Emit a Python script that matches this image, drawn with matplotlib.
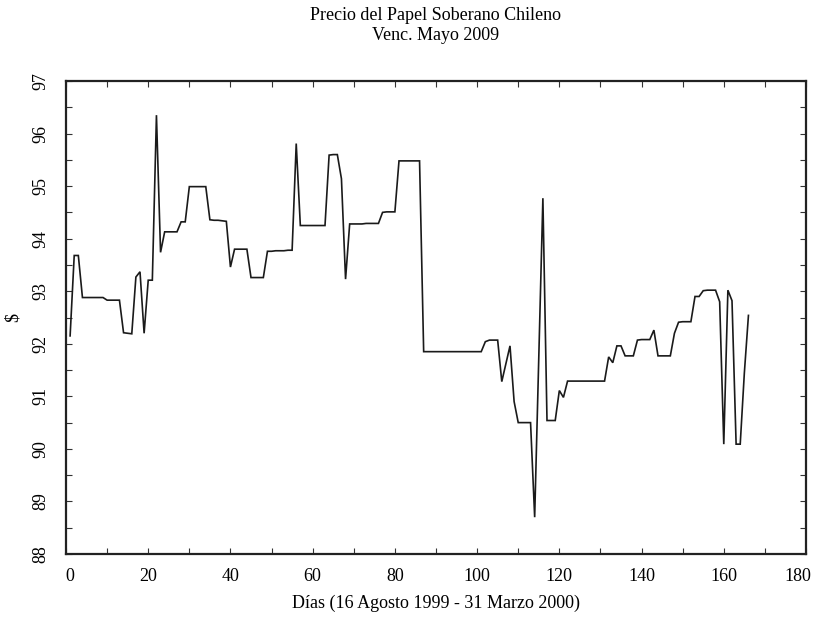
import matplotlib
matplotlib.use("Agg")
import matplotlib.pyplot as plt
import matplotlib.transforms as mtransforms
import numpy as np

plt.rcParams['font.family'] = ['Liberation Serif', 'DejaVu Serif']

days = list(range(1, 167))
prices = [
    92.15, 93.68, 93.68, 92.88, 92.88, 92.88, 92.88, 92.88, 92.88, 92.83,   # 1-10
    92.83, 92.83, 92.83, 92.21, 92.20, 92.19, 93.27, 93.37, 92.20, 93.21,   # 11-20
    93.21, 96.35, 93.74, 94.13, 94.13, 94.13, 94.13, 94.32, 94.32, 94.99,   # 21-30
    94.99, 94.99, 94.99, 94.99, 94.36, 94.35, 94.35, 94.34, 94.33, 93.46,   # 31-40
    93.80, 93.80, 93.80, 93.80, 93.26, 93.26, 93.26, 93.26, 93.76, 93.76,   # 41-50
    93.77, 93.77, 93.77, 93.78, 93.78, 95.81, 94.25, 94.25, 94.25, 94.25,   # 51-60
    94.25, 94.25, 94.25, 95.59, 95.60, 95.60, 95.14, 93.23, 94.28, 94.28,   # 61-70
    94.28, 94.28, 94.29, 94.29, 94.29, 94.29, 94.50, 94.51, 94.51, 94.51,   # 71-80
    95.48, 95.48, 95.48, 95.48, 95.48, 95.48, 91.85, 91.85, 91.85, 91.85,   # 81-90
    91.85, 91.85, 91.85, 91.85, 91.85, 91.85, 91.85, 91.85, 91.85, 91.85,   # 91-100
    91.85, 92.04, 92.07, 92.07, 92.07, 91.28, 91.62, 91.96, 90.90, 90.50,   # 101-110
    90.50, 90.50, 90.50, 88.70, 91.73, 94.77, 90.54, 90.54, 90.54, 91.11,   # 111-120
    90.98, 91.29, 91.29, 91.29, 91.29, 91.29, 91.29, 91.29, 91.29, 91.29,   # 121-130
    91.29, 91.75, 91.64, 91.96, 91.96, 91.77, 91.77, 91.77, 92.07, 92.08,   # 131-140
    92.08, 92.08, 92.26, 91.77, 91.77, 91.77, 91.77, 92.20, 92.41, 92.42,   # 141-150
    92.42, 92.42, 92.90, 92.90, 93.01, 93.02, 93.02, 93.02, 92.80, 90.09,   # 151-160
    93.02, 92.82, 90.09, 90.09, 91.44, 92.54,                               # 161-166
]

x_ticks = [0, 20, 40, 60, 80, 100, 120, 140, 160, 180]
y_ticks = [88, 89, 90, 91, 92, 93, 94, 95, 96, 97]

title_lines = ["Precio del Papel Soberano Chileno", "Venc. Mayo 2009"]
x_label = "Días (16 Agosto 1999 - 31 Marzo 2000)"
y_label = "$"

W, H = 814, 617
fig = plt.figure(figsize=(W / 100, H / 100), dpi=100)
ax = fig.add_axes([66 / W, 1 - 554 / H, (806 - 66) / W, (554 - 81) / H])

ax.plot(days, prices, color='#1a1a1a', lw=1.2, solid_joinstyle='miter')

ax.set_xlim(0, 180)
ax.set_ylim(88, 97)
ax.set_xticks(x_ticks)
ax.set_yticks(y_ticks)
ax.set_xticks(np.arange(10, 180, 20), minor=True)
ax.set_yticks(np.arange(88.5, 97, 1.0), minor=True)
ax.set_yticklabels([str(v) for v in y_ticks], rotation=90, va='center')
ax.tick_params(which='both', direction='in', top=True, right=True,
               length=4.5, width=0.8, color='#333333', labelsize=13)
ax.tick_params(axis='x', pad=10)
ax.tick_params(axis='y', pad=12)
for s in ax.spines.values():
    s.set_linewidth(1.6)
    s.set_color('#222222')

xl = ax.get_xticklabels()
xl[0].set_transform(xl[0].get_transform() + mtransforms.ScaledTranslation(4 / 100, 0, fig.dpi_scale_trans))
xl[-1].set_transform(xl[-1].get_transform() + mtransforms.ScaledTranslation(-8 / 100, 0, fig.dpi_scale_trans))

ax.set_xlabel(x_label, fontsize=13, labelpad=7)
ax.set_ylabel(y_label, fontsize=13, rotation=90)
ax.yaxis.set_label_coords(-0.06, 0.50)

cx = (66 + 806) / 2 / W
fig.text(cx, 1 - 16 / H, title_lines[0], ha='center', va='center', fontsize=13)
fig.text(cx, 1 - 36 / H, title_lines[1], ha='center', va='center', fontsize=13)

fig.savefig("out.png", dpi=100)
